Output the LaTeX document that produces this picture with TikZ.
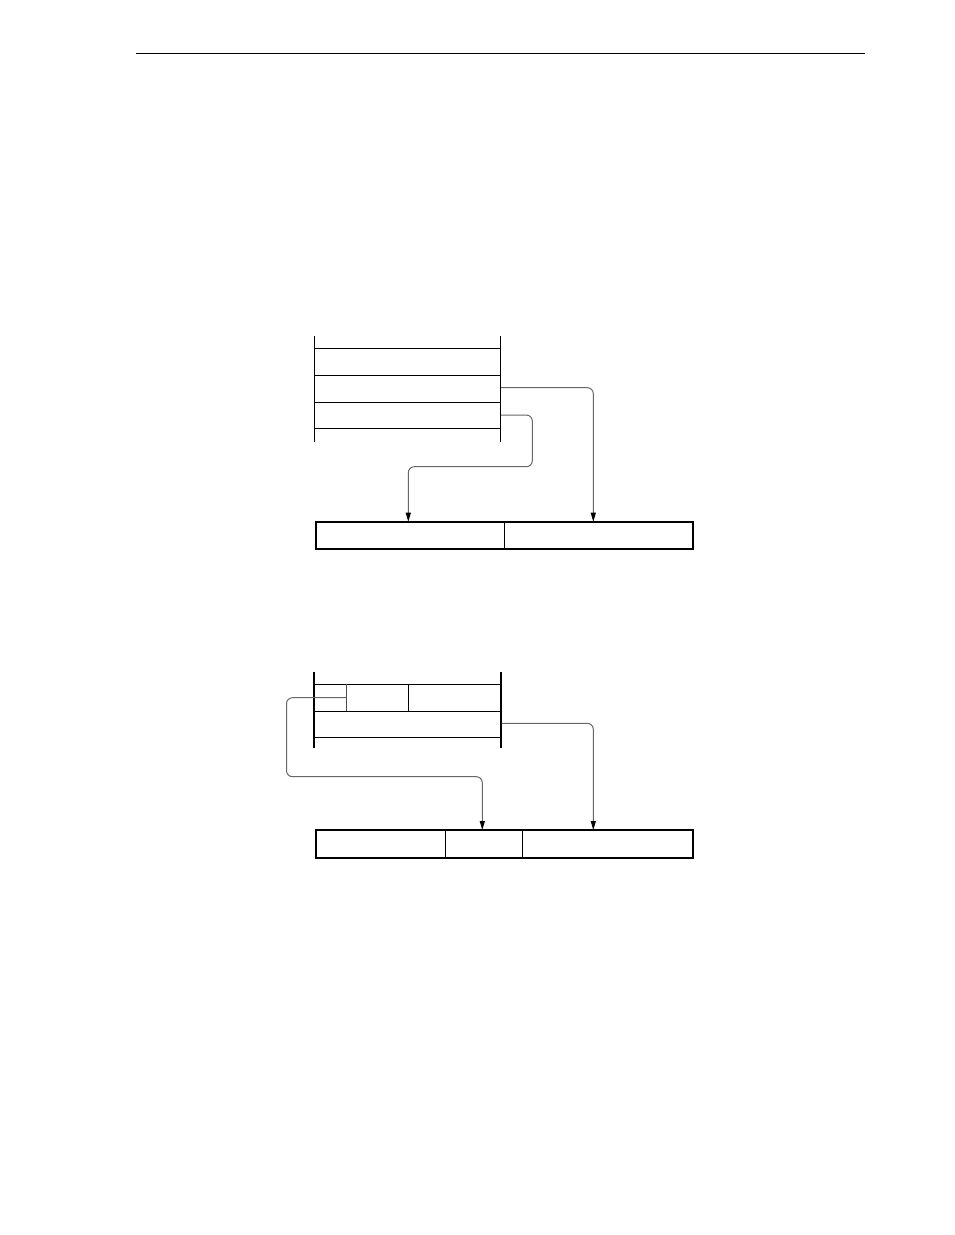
\documentclass[tikz,border=0pt]{standalone}
\usetikzlibrary{arrows.meta}
\begin{document}
\begin{tikzpicture}[x=1pt,y=-1pt,
  thinline/.style={line width=1pt,black},
  thickline/.style={line width=2pt,black},
  boxline/.style={line width=2pt,black},
  conn/.style={line width=1pt,draw=black!60,rounded corners=6pt,
    -{Triangle[width=5pt,length=9pt,color=black]}},
  connplain/.style={line width=1pt,draw=black!60,rounded corners=6pt}]
\useasboundingbox (0,0) rectangle (954,1235);
% header rule
\draw[line width=1.2pt] (136,53.3) -- (865,53.3);

% ---------- diagram 1 ----------
\draw[thinline] (314.3,336) -- (314.3,441.7);
\draw[thinline] (500,336) -- (500,441.7);
\foreach \yy in {348.3,375,402,428.3}
  \draw[thinline] (314.3,\yy) -- (500,\yy);
% target box
\draw[boxline] (315.7,521.7) rectangle (693,549.3);
\draw[thinline] (504.3,521.7) -- (504.3,549.3);
\coordinate (s1a) at (501,387.7);
\coordinate (t1a) at (593.3,521.7);
\coordinate (s1b) at (501,415);
\coordinate (t1b) at (408.3,521.7);
\draw[conn] (s1a) -| (t1a);
\draw[conn] (s1b) -- (532.3,415) -- (532.3,466.7) -- (408.3,466.7) -- (t1b);

% ---------- diagram 2 ----------
\draw[thickline] (314.3,672.3) -- (314.3,748.3);
\draw[thickline] (500.7,672.3) -- (500.7,748.3);
\foreach \yy in {684.3,711,737.7}
  \draw[thinline] (314.3,\yy) -- (500.7,\yy);
\draw[line width=1pt,black!70] (346.7,684.3) -- (346.7,711);
\draw[thinline] (408.3,684.3) -- (408.3,711);
% target box
\draw[boxline] (316,830) rectangle (693.3,858.3);
\draw[thinline] (445.7,830) -- (445.7,858.3);
\draw[thinline] (522.3,830) -- (522.3,858.3);
\coordinate (s2a) at (346.7,697.7);
\coordinate (t2a) at (482.3,830);
\coordinate (s2b) at (501.7,723.3);
\coordinate (t2b) at (593.3,830);
\draw[conn] (s2a) -- (286.5,697.7) -- (286.5,776.7) -- (482.3,776.7) -- (t2a);
\draw[conn] (s2b) -| (t2b);
\end{tikzpicture}
\end{document}
